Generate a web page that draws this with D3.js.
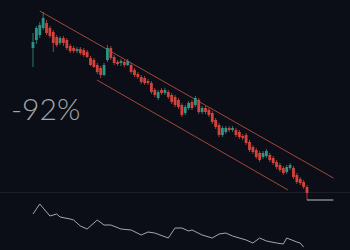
<!DOCTYPE html>
<html>
<head>
<meta charset="utf-8">
<script src="https://cdn.jsdelivr.net/npm/d3@7"></script>
<style>
  html, body { margin: 0; padding: 0; background: #0b0e16; }
  svg { display: block; }
</style>
</head>
<body>
<svg width="350" height="250"></svg>
<script>
// candles: [open, high, low, close]
const candles = [
  [760, 835, 665, 790], [800, 870, 780, 860], [825, 890, 810, 875], [860, 940, 850, 910],
  [885, 900, 825, 835], [860, 870, 810, 820], [840, 850, 740, 785], [815, 825, 765, 775],
  [785, 820, 775, 810], [810, 820, 770, 785], [800, 810, 750, 760], [770, 780, 735, 745],
  [760, 770, 735, 745], [745, 765, 735, 755], [755, 765, 725, 735], [750, 760, 715, 725],
  [740, 750, 710, 715], [710, 720, 670, 675], [700, 710, 660, 665], [675, 685, 630, 640],
  [660, 670, 610, 625], [625, 685, 620, 675], [700, 775, 690, 760], [760, 770, 700, 710],
  [715, 725, 675, 685], [690, 700, 670, 680], [685, 705, 670, 695], [690, 700, 665, 675],
  [675, 705, 670, 695], [675, 685, 630, 640], [650, 660, 615, 625], [630, 640, 605, 615],
  [615, 625, 580, 590], [610, 620, 575, 585], [595, 605, 575, 585], [585, 595, 530, 540],
  [550, 560, 515, 525], [510, 550, 500, 540], [550, 560, 525, 535], [535, 560, 525, 550],
  [540, 550, 505, 515], [525, 535, 480, 490], [515, 525, 465, 475], [500, 510, 455, 465],
  [475, 485, 415, 425], [435, 475, 425, 465], [460, 495, 450, 485], [490, 500, 450, 460],
  [475, 520, 465, 510], [500, 510, 430, 440], [440, 470, 430, 460], [460, 470, 430, 440],
  [450, 460, 415, 425], [435, 445, 380, 390], [400, 410, 355, 365], [375, 385, 315, 325],
  [325, 370, 315, 360], [340, 370, 330, 360], [360, 370, 340, 350], [350, 370, 340, 360],
  [350, 360, 315, 325], [340, 350, 305, 315], [320, 330, 300, 310], [325, 335, 275, 285],
  [290, 300, 240, 250], [265, 275, 230, 240], [250, 260, 205, 215], [235, 245, 190, 200],
  [215, 245, 205, 235], [220, 255, 210, 245], [225, 235, 190, 200], [210, 220, 175, 185],
  [190, 200, 155, 165], [175, 185, 140, 150], [160, 170, 125, 135], [140, 175, 130, 165],
  [160, 185, 150, 175], [160, 170, 105, 115], [125, 135, 80, 90], [105, 115, 75, 85],
  [90, 100, 55, 65], [65, 75, 0, 35]
];

// channel lines: [index, price] endpoints
const upperChannel = [[2, 945], [88.8, 110]];
const lowerChannel = [[18.9, 600], [75.4, 50]];
const lastPrice = [[81, 0], [88.8, 0]];

// lower indicator: candle index and value
const indIdx = [0, 2, 5, 7, 8, 11, 12, 14, 16, 19, 21, 23, 26, 29, 32, 34, 36, 40,
  42, 44, 46, 47, 50, 53, 55, 57, 59, 63, 65, 67, 69, 72, 74, 75, 78, 79, 80];
const indVal = [72, 92, 68, 72, 66, 62, 60, 48, 42, 60, 50, 50, 42, 40, 30, 36, 34, 24,
  44, 44, 38, 40, 30, 24, 32, 34, 28, 20, 14, 24, 18, 14, 12, 24, 16, 14, 6];

const label = "-92%";

const svg = d3.select("svg");
const width = +svg.attr("width");

const x = d3.scaleLinear().domain([0, candles.length - 1]).range([33, 307]);
const y = d3.scaleLinear().domain([0, 1000]).range([200, 0]);
const yInd = d3.scaleLinear().domain([0, 100]).range([250, 200]);

const up = "#2e9484";
const down = "#d2443b";

// separator between panes
svg.append("line")
  .attr("x1", 0).attr("x2", width)
  .attr("y1", 192.5).attr("y2", 192.5)
  .attr("stroke", "#1a1f2c")
  .attr("stroke-width", 1);

// channel
const line = d3.line().x((d) => x(d[0])).y((d) => y(d[1]));
[upperChannel, lowerChannel].forEach((c) => {
  svg.append("path")
    .attr("d", line(c))
    .attr("fill", "none")
    .attr("stroke", "#a3473a")
    .attr("stroke-width", 1);
});

// candles
const cg = svg.append("g");
cg.selectAll("line.wick")
  .data(candles)
  .enter()
  .append("line")
  .attr("class", "wick")
  .attr("x1", (d, i) => x(i))
  .attr("x2", (d, i) => x(i))
  .attr("y1", (d) => y(d[1]))
  .attr("y2", (d) => y(d[2]))
  .attr("stroke", (d) => (d[3] >= d[0] ? up : down))
  .attr("stroke-width", 0.8);

cg.selectAll("rect.body")
  .data(candles)
  .enter()
  .append("rect")
  .attr("class", "body")
  .attr("x", (d, i) => x(i) - 1.4)
  .attr("width", 2.8)
  .attr("y", (d) => y(Math.max(d[0], d[3])))
  .attr("height", (d) => Math.max(1.5, Math.abs(y(d[0]) - y(d[3]))))
  .attr("fill", (d) => (d[3] >= d[0] ? up : down));

// last price marker
svg.append("path")
  .attr("d", line(lastPrice))
  .attr("fill", "none")
  .attr("stroke", "#b9bcc4")
  .attr("stroke-width", 1);

// lower pane line
const indLine = d3.line()
  .x((d, i) => x(indIdx[i]))
  .y((d) => yInd(d));
svg.append("path")
  .attr("d", indLine(indVal))
  .attr("fill", "none")
  .attr("stroke", "#a4a7ae")
  .attr("stroke-width", 1);

svg.append("text")
  .attr("x", 11)
  .attr("y", 120)
  .attr("fill", "#a5a7ab")
  .attr("font-family", "Lato, 'Open Sans', sans-serif")
  .attr("font-weight", 300)
  .attr("font-size", 30)
  .text(label);
</script>
</body>
</html>
